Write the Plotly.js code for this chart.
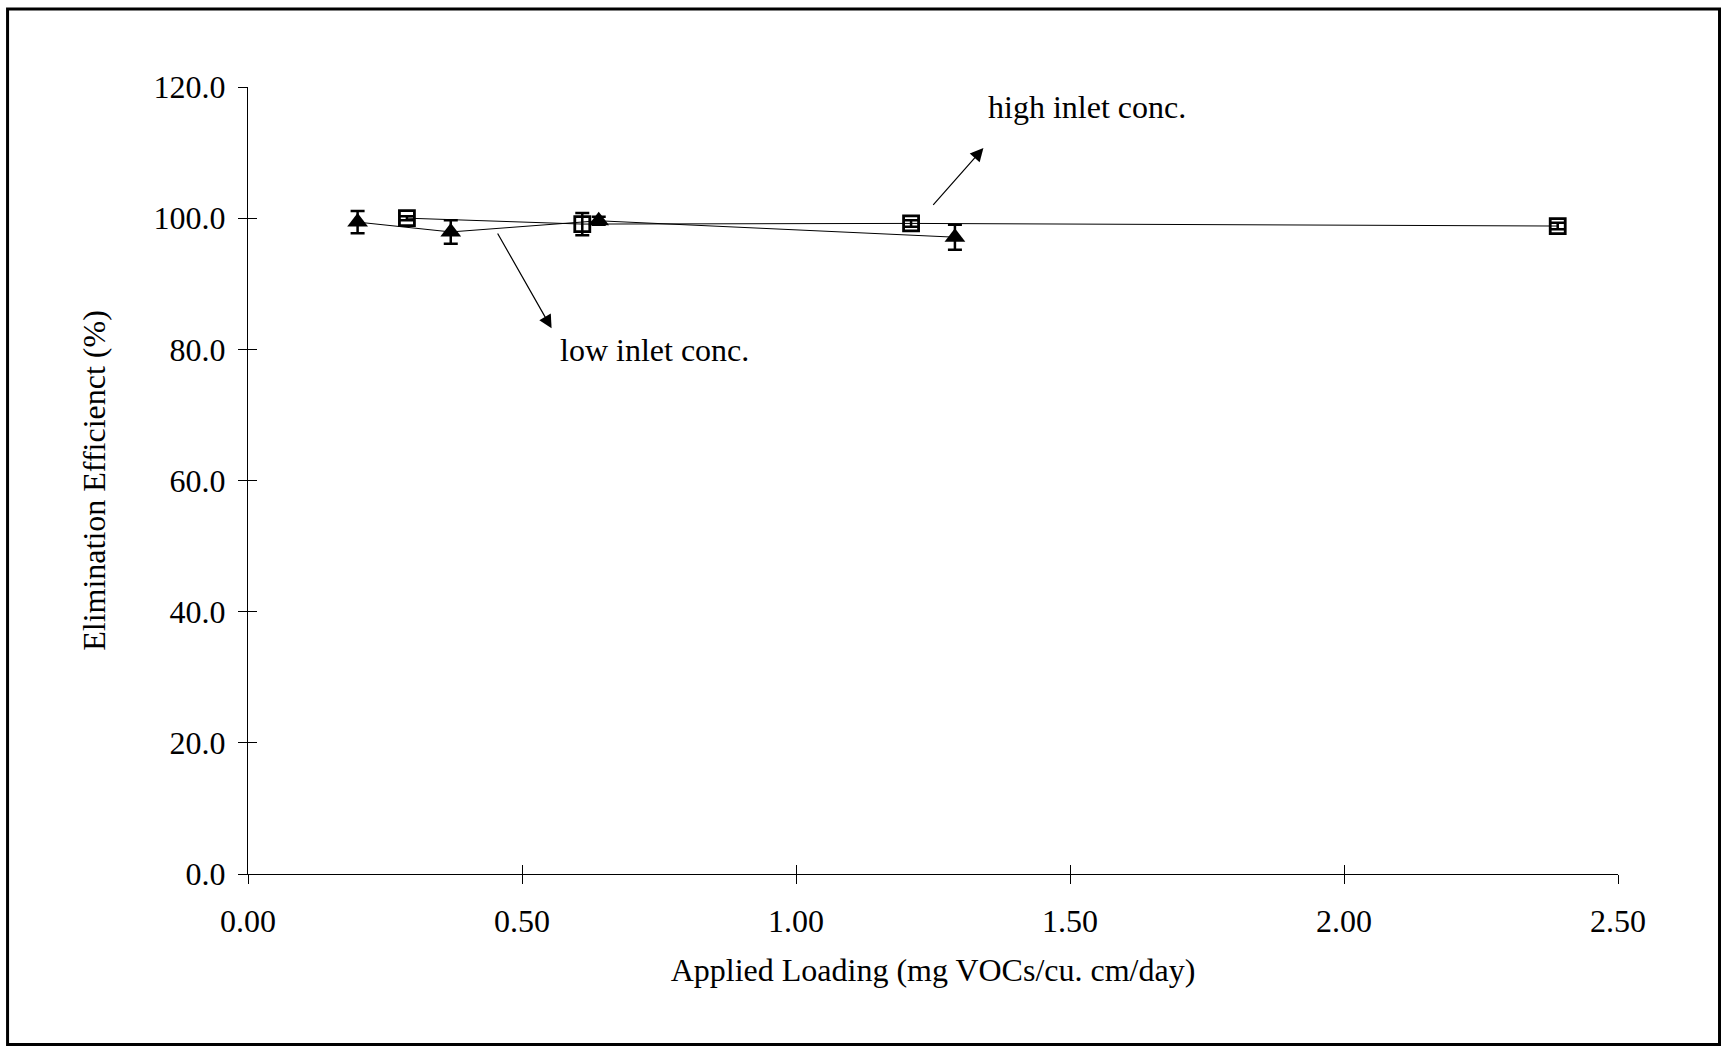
<!DOCTYPE html>
<html>
<head>
<meta charset="utf-8">
<script src="https://cdn.plot.ly/plotly-3.0.1.min.js"></script>
<style>
  html, body { margin: 0; padding: 0; background: #fff; }
  #chart { width: 1721px; height: 1056px; }
</style>
</head>
<body>
<div id="chart"></div>
<script>
// Elimination efficiency vs. applied loading, two inlet concentrations
const lowLoading  = [0.20, 0.37, 0.64, 1.29];
const lowEff      = [99.4, 97.9, 99.6, 97.1];
const lowErr      = [1.7, 1.8, 0.6, 1.9];

const highLoading = [0.29, 0.61, 1.21, 2.39];
const highEff     = [100.0, 99.1, 99.2, 98.8];
const highErr     = [0.3, 1.7, 0.5, 0.5];

const xTicks = [0, 0.5, 1.0, 1.5, 2.0, 2.5];
const yTicks = [0, 20, 40, 60, 80, 100, 120];

const FONT = 'Liberation Serif, Times New Roman, serif';
const FS = 32;

const traces = [
  {
    name: 'low inlet conc.',
    x: lowLoading, y: lowEff,
    type: 'scatter', mode: 'lines+markers',
    line: { color: '#000', width: 1 },
    marker: { symbol: 'triangle-up', size: 18, color: '#000' },
    error_y: { type: 'data', array: lowErr, visible: true, color: '#000', thickness: 2.5, width: 7 }
  },
  {
    name: 'high inlet conc.',
    x: highLoading, y: highEff,
    type: 'scatter', mode: 'lines+markers',
    line: { color: '#000', width: 1 },
    marker: { symbol: 'square-open', size: 15, color: '#000', line: { width: 2.8, color: '#000' } },
    error_y: { type: 'data', array: highErr, visible: true, color: '#000', thickness: 2.5, width: 7 }
  }
];

const axisCommon = {
  showgrid: false, zeroline: false,
  showline: true, linecolor: '#000', linewidth: 1,
  tickcolor: '#000', tickwidth: 1, ticklen: 9,
  tickfont: { family: FONT, size: FS, color: '#000' }
};

const layout = {
  width: 1721, height: 1056,
  paper_bgcolor: '#fff', plot_bgcolor: '#fff',
  showlegend: false,
  margin: { l: 248, r: 103, t: 87, b: 182 },
  font: { family: FONT, color: '#000' },
  xaxis: Object.assign({}, axisCommon, {
    range: [0, 2.5], tickmode: 'array', tickvals: xTicks, tickformat: '.2f',
    ticks: 'outside', ticklabelstandoff: 10,
    title: { text: 'Applied Loading (mg VOCs/cu. cm/day)', font: { family: FONT, size: FS, color: '#000' }, standoff: 20 }
  }),
  yaxis: Object.assign({}, axisCommon, {
    range: [0, 120], tickmode: 'array', tickvals: yTicks, tickformat: '.1f',
    ticks: 'outside', ticklabelstandoff: 6,
    title: { text: 'Elimination Efficienct (%)', font: { family: FONT, size: FS, color: '#000' }, standoff: 38 }
  }),
  // second pair of axes carries the inner half of each crossing tick
  xaxis2: Object.assign({}, axisCommon, {
    overlaying: 'x', anchor: 'y', range: [0, 2.5], tickmode: 'array', tickvals: xTicks,
    ticks: 'inside', showticklabels: false, showline: false
  }),
  yaxis2: Object.assign({}, axisCommon, {
    overlaying: 'y', anchor: 'x', range: [0, 120], tickmode: 'array', tickvals: yTicks,
    ticks: 'inside', showticklabels: false, showline: false
  }),
  annotations: [
    { x: 1.342, y: 110.7, ax: 1.248, ay: 101.8, xref: 'x', yref: 'y', axref: 'x', ayref: 'y',
      text: '', showarrow: true, arrowhead: 2, arrowsize: 2.2, arrowwidth: 1.2, arrowcolor: '#000', standoff: 0 },
    { x: 0.554, y: 83.2, ax: 0.454, ay: 97.9, xref: 'x', yref: 'y', axref: 'x', ayref: 'y',
      text: '', showarrow: true, arrowhead: 2, arrowsize: 2.2, arrowwidth: 1.2, arrowcolor: '#000', standoff: 0 },
    { x: 1.347, y: 117.0, xref: 'x', yref: 'y', xanchor: 'left', yanchor: 'middle',
      text: 'high inlet conc.', showarrow: false, font: { family: FONT, size: FS, color: '#000' } },
    { x: 0.566, y: 79.9, xref: 'x', yref: 'y', xanchor: 'left', yanchor: 'middle',
      text: 'low inlet conc.', showarrow: false, font: { family: FONT, size: FS, color: '#000' } }
  ],
  shapes: [
    // page frame
    { type: 'rect', xref: 'paper', yref: 'paper',
      x0: -0.1755, x1: 1.0741, y0: -0.2166, y1: 1.0990,
      line: { color: '#000', width: 3 }, fillcolor: 'rgba(0,0,0,0)' }
  ]
};

// invisible point so the overlay axes are rendered
traces.push({ x: [0], y: [0], xaxis: 'x2', yaxis: 'y2', mode: 'markers',
  marker: { opacity: 0 }, hoverinfo: 'skip', showlegend: false });

Plotly.newPlot('chart', traces, layout, { staticPlot: true, displayModeBar: false });
</script>
</body>
</html>
